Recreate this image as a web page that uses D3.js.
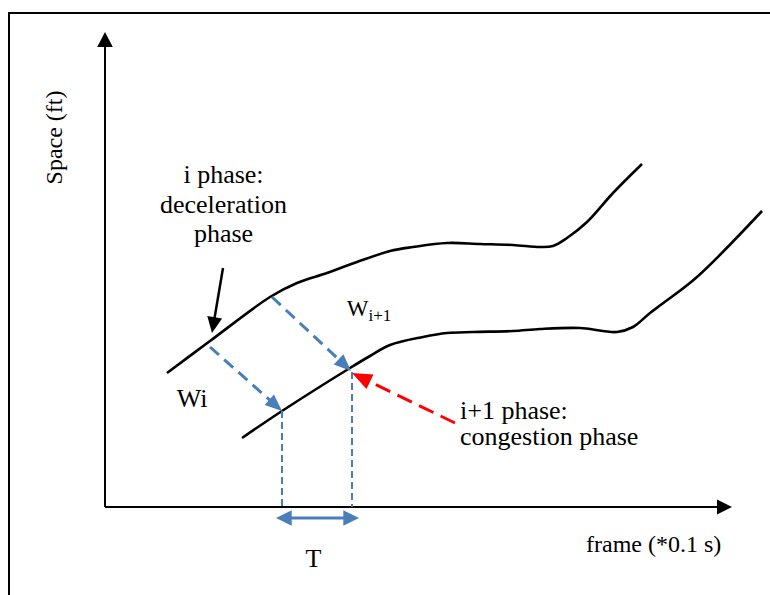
<!DOCTYPE html>
<html><head><meta charset="utf-8">
<script src="https://cdn.jsdelivr.net/npm/d3@7/dist/d3.min.js"></script>
<style>body{margin:0;background:#fff}svg{display:block}</style>
</head><body>
<svg id="c" width="770" height="595"></svg>
<script>
// ---- data (diagram units: frames along x, space along y) ----
const upperPhase = [[62,134],[105,166],[165,210],[192,224],[222,234],[252,245],[285,256],[308,260],[342,264],[375,263],[408,262],[435,260],[448,261],[462,269],[482,285],[508,314],[537,343]];
const lowerPhase = [[137,69],[177,96],[245,139],[265,151],[285,162],[318,170],[342,174],[368,175],[408,176],[435,178],[475,179],[498,176],[512,175],[528,180],[545,194],[557,203],[592,230],[657,296]];
const waveArrows = [{from:[105,160], to:[177,96]}, {from:[167,210], to:[246,136]}];
const phaseArrowRed = {from:[350,84], to:[247,134]};
const phaseArrowBlack = {from:[118,239], to:[107,174]};
const guideLines = [{x:177, top:96}, {x:247, top:135}];
const periodSpan = {from:171, to:254, level:-11};
const labels = {
  yAxis: "Space (ft)", xAxis: "frame (*0.1 s)",
  iPhase: ["i phase:", "deceleration", "phase"],
  nextPhase: ["i+1 phase:", "congestion phase"],
  wi: "Wi", w: "W", wSub: "i+1", period: "T"
};

const svg = d3.select('#c');
const x = d3.scaleLinear().domain([0, 627]).range([105, 732]);
const y = d3.scaleLinear().domain([0, 475]).range([507, 32]);
const P = d => [x(d[0]), y(d[1])];
const BLUE = '#4a7ebb', RED = '#ff0000';
const serif = '"Liberation Serif","Times New Roman",serif';

// frame
svg.append('rect').attr('x', 9).attr('y', 13).attr('width', 800).attr('height', 620)
  .attr('fill', 'none').attr('stroke', '#000').attr('stroke-width', 2);

function arrow(p0, p1, opt) {
  const dx = p1[0]-p0[0], dy = p1[1]-p0[1], L = Math.hypot(dx, dy), ux = dx/L, uy = dy/L;
  const bx = p1[0]-ux*opt.len, by = p1[1]-uy*opt.len;
  svg.append('line').attr('x1', p0[0]).attr('y1', p0[1]).attr('x2', bx+ux*1).attr('y2', by+uy*1)
    .attr('stroke', opt.color).attr('stroke-width', opt.width)
    .attr('stroke-dasharray', opt.dash || null);
  svg.append('path')
    .attr('d', `M${p1[0]},${p1[1]}L${bx-uy*opt.half},${by+ux*opt.half}L${bx+uy*opt.half},${by-ux*opt.half}Z`)
    .attr('fill', opt.color);
}

// axes
arrow(P([0,0]), P([0,475]), {len:15, half:7.8, color:'#000', width:2});
arrow(P([0,0]), P([627,0]), {len:15, half:7.5, color:'#000', width:2});

// curves
const line = d3.line().x(d => x(d[0])).y(d => y(d[1])).curve(d3.curveCatmullRom.alpha(0.5));
[upperPhase, lowerPhase].forEach(d => {
  svg.append('path').attr('d', line(d)).attr('fill', 'none')
    .attr('stroke', '#000').attr('stroke-width', 2.6).attr('stroke-linecap', 'butt');
});

// vertical guides
guideLines.forEach(g => {
  svg.append('line').attr('x1', x(g.x)).attr('x2', x(g.x)).attr('y1', y(g.top)).attr('y2', y(0))
    .attr('stroke', BLUE).attr('stroke-width', 2).attr('stroke-dasharray', '7,4');
});

// wave arrows
waveArrows.forEach(a => arrow(P(a.from), P(a.to), {len:17, half:7, color:BLUE, width:3, dash:'12,7'}));
// red arrow
arrow(P(phaseArrowRed.from), P(phaseArrowRed.to), {len:20, half:8, color:RED, width:3, dash:'16,8'});
// black arrow
arrow(P(phaseArrowBlack.from), P(phaseArrowBlack.to), {len:16, half:7.5, color:'#000', width:2.5});

// T double arrow
(function(){
  const a = P([periodSpan.from, periodSpan.level]), b = P([periodSpan.to, periodSpan.level]);
  svg.append('line').attr('x1', a[0]+14).attr('x2', b[0]-14).attr('y1', a[1]).attr('y2', b[1])
    .attr('stroke', BLUE).attr('stroke-width', 2.8);
  svg.append('path').attr('d', `M${a[0]},${a[1]}L${a[0]+15.7},${a[1]-7.7}L${a[0]+15.7},${a[1]+7.7}Z`).attr('fill', BLUE);
  svg.append('path').attr('d', `M${b[0]},${b[1]}L${b[0]-15.7},${b[1]-7.7}L${b[0]-15.7},${b[1]+7.7}Z`).attr('fill', BLUE);
})();

// text
function txt(s, tx, ty, size, anchor) {
  return svg.append('text').attr('x', tx).attr('y', ty).attr('font-family', serif)
    .attr('font-size', size).attr('text-anchor', anchor || 'start').attr('fill', '#000').text(s);
}
svg.append('text').attr('transform', 'translate(62,137.5) rotate(-90)')
  .attr('font-family', serif).attr('font-size', 24).attr('text-anchor', 'middle').text(labels.yAxis);
txt(labels.xAxis, 586, 552, 24);
labels.iPhase.forEach((s, i) => txt(s, 223.5, 183.3 + i*29.5, 26, 'middle'));
labels.nextPhase.forEach((s, i) => txt(s, 460, 419.3 + i*25.8, 26));
txt(labels.wi, 176.7, 407.3, 26);
txt(labels.w, 346.7, 316, 23);
txt(labels.wSub, 368.5, 320.7, 17);
txt(labels.period, 313.5, 566.7, 26, 'middle');
</script>
</body></html>
